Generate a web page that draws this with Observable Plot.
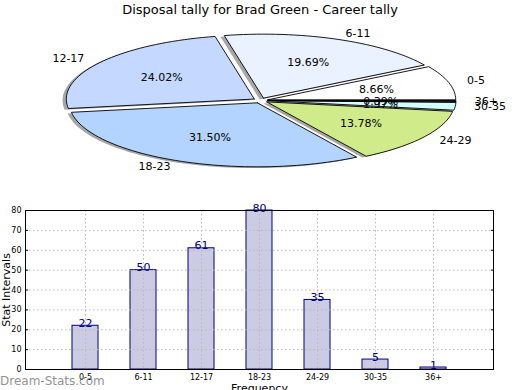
<!DOCTYPE html>
<html>
<head>
<meta charset="utf-8">
<script src="https://cdn.jsdelivr.net/npm/d3@7"></script>
<script src="https://cdn.jsdelivr.net/npm/@observablehq/plot@0.6"></script>
<style>
  html, body { margin: 0; padding: 0; background: #fff; }
  #wrap { position: relative; width: 520px; height: 390px; overflow: hidden; font-family: "DejaVu Sans", sans-serif; }
  #title { position: absolute; left: 0; top: 2px; width: 520px; text-align: center; font-size: 13px; color: #000; z-index: 2; }
  #pie { position: absolute; left: 0; top: 0; }
  #bar { position: absolute; left: 0; top: 195px; }
  #wm { position: absolute; left: 0; top: 374px; font-size: 12px; color: rgba(115,115,115,0.8); z-index: 3; }
</style>
</head>
<body>
<div id="wrap">
  <div id="pie"></div>
  <div id="bar"></div>
  <div id="title">Disposal tally for Brad Green - Career tally</div>
  <div id="wm">Dream-Stats.com</div>
</div>
<script>
const titleText = "Disposal tally for Brad Green - Career tally";
const categories = ["0-5", "6-11", "12-17", "18-23", "24-29", "30-35", "36+"];
const counts = [22, 50, 61, 80, 35, 5, 1];
const sliceColors = ["#ffffff", "#eaf1ff", "#c5d8ff", "#b3d4ff", "#d0eb8a", "#d4ffff", "#222222"];
const yTicks = [0, 10, 20, 30, 40, 50, 60, 70, 80];
const yLabel = "Stat Intervals";
const xLabel = "Frequency";

// ---------- Pie ----------
const W = 520, PH = 190, cx = 260, cy = 100, rx = 188, ry = 64;
const explode = 0.04, shadowOff = 0.02;
const total = d3.sum(counts);
let acc = 0;
const slices = categories.map((c, i) => {
  const a0 = acc / total * 2 * Math.PI;
  acc += counts[i];
  const a1 = acc / total * 2 * Math.PI;
  const m = (a0 + a1) / 2;
  return {cat: c, value: counts[i], color: sliceColors[i], a0, a1, m,
          ox: explode * Math.cos(m), oy: explode * Math.sin(m),
          pct: (counts[i] / total * 100).toFixed(2) + "%"};
});
function polygon(s, dx, dy, key) {
  const pts = [{k: key, x: s.ox + dx, y: s.oy + dy, color: s.color}];
  const n = Math.max(4, Math.ceil((s.a1 - s.a0) / (Math.PI / 90)));
  for (let j = 0; j <= n; j++) {
    const a = s.a0 + (s.a1 - s.a0) * j / n;
    pts.push({k: key, x: s.ox + dx + Math.cos(a), y: s.oy + dy + Math.sin(a), color: s.color});
  }
  pts.push({k: key, x: s.ox + dx, y: s.oy + dy, color: s.color});
  return pts;
}
const wedgePts = slices.flatMap((s, i) => polygon(s, 0, 0, "w" + i));
const shadowPts = slices.flatMap((s, i) => polygon(s, -shadowOff, -shadowOff, "s" + i));
const catLabels = slices.map(s => ({
  x: s.ox + 1.1 * Math.cos(s.m), y: s.oy + 1.1 * Math.sin(s.m),
  text: s.cat, anchor: Math.cos(s.m) >= 0 ? "start" : "end"}));
const pctLabels = slices.map(s => ({
  x: s.ox + 0.6 * Math.cos(s.m), y: s.oy + 0.6 * Math.sin(s.m), text: s.pct}));

const pie = Plot.plot({
  width: W, height: PH, margin: 0,
  x: {domain: [-cx / rx, (W - cx) / rx], range: [0, W], axis: null},
  y: {domain: [-(PH - cy) / ry, cy / ry], range: [PH, 0], axis: null},
  color: {type: "identity"},
  style: {fontFamily: "DejaVu Sans", fontSize: "11px", background: "transparent"},
  marks: [
    Plot.line(shadowPts, {x: "x", y: "y", z: "k", fill: "#4d4d4d", fillOpacity: 0.5, stroke: "none", curve: "linear"}),
    Plot.line(wedgePts, {x: "x", y: "y", z: "k", fill: "color", stroke: "black", strokeWidth: 0.9, curve: "linear"}),
    Plot.text(catLabels.filter(d => d.anchor === "start"), {x: "x", y: "y", text: "text", textAnchor: "start", fill: "black"}),
    Plot.text(catLabels.filter(d => d.anchor === "end"), {x: "x", y: "y", text: "text", textAnchor: "end", fill: "black"}),
    Plot.text(pctLabels, {x: "x", y: "y", text: "text", fill: "black"})
  ]
});
document.getElementById("pie").appendChild(pie);

// ---------- Bars ----------
const barData = categories.map((c, i) => ({cat: c, v: counts[i]}));
const bar = Plot.plot({
  width: 520, height: 195,
  marginLeft: 25, marginRight: 27, marginTop: 15, marginBottom: 21,
  x: {type: "band", domain: categories, paddingInner: 0.55, paddingOuter: 0.775, axis: null},
  y: {domain: [0, 80], axis: null},
  style: {fontFamily: "DejaVu Sans", fontSize: "8px", background: "transparent", overflow: "visible"},
  marks: [
    Plot.barY(barData, {x: "cat", y: "v", fill: "#cbcbe3", stroke: "#000080", strokeWidth: 1}),
    Plot.gridY(yTicks, {stroke: "#b8b8b8", strokeOpacity: 1, strokeDasharray: "1.5,2.5"}),
    Plot.gridX(categories, {stroke: "#b8b8b8", strokeOpacity: 1, strokeDasharray: "1.5,2.5"}),
    Plot.text(barData, {x: "cat", y: "v", text: d => String(d.v), lineAnchor: "bottom", dy: 1, fill: "#000080", fontSize: 11}),
    Plot.frame({stroke: "black", strokeWidth: 1}),
    Plot.axisY(yTicks, {tickSize: 0, tickPadding: 4, label: null, fill: "black"}),
    Plot.axisY(yTicks, {anchor: "left", tickSize: -3, tickFormat: () => "", label: null, stroke: "black"}),
    Plot.axisY(yTicks, {anchor: "right", tickSize: -3, tickFormat: () => "", label: null, stroke: "black"}),
    Plot.axisX(categories, {tickSize: 0, tickPadding: 5, label: null, fill: "black"}),
    Plot.text([yLabel], {frameAnchor: "left", dx: -19, rotate: -90, textAnchor: "middle", fontSize: 11, fill: "black"}),
    Plot.text([xLabel], {frameAnchor: "bottom", dy: 15, lineAnchor: "top", textAnchor: "middle", fontSize: 11, fill: "black"})
  ]
});
document.getElementById("bar").appendChild(bar);
</script>
</body>
</html>
